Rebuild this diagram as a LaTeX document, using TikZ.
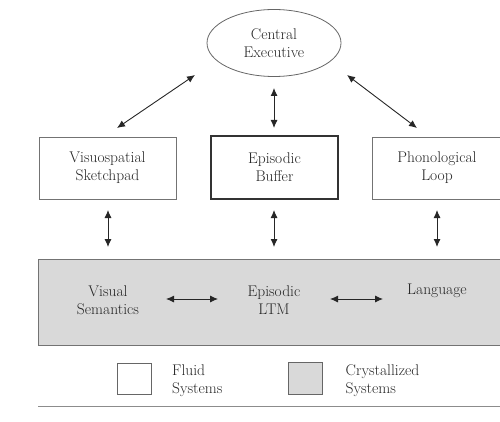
\documentclass[tikz,border=0pt]{standalone}
\usetikzlibrary{arrows.meta,shapes.geometric,calc}
\begin{document}
\begin{tikzpicture}[x=1pt,y=-1pt,
  font=\fontsize{15.5}{18}\selectfont,
  txt/.style={text=black!85, align=center, inner sep=0pt},
  box/.style={draw=black!55, line width=0.8pt, fill=white, txt},
  arr/.style={{Latex[length=8pt,width=7pt]}-{Latex[length=8pt,width=7pt]}, line width=0.9pt, draw=black!85}]
\useasboundingbox (0,0) rectangle (500,422);
% central executive
\node[ellipse, draw=black!60, line width=0.8pt, minimum width=134pt, minimum height=67pt, txt] (ce) at (274,43) {Central\\Executive};
% slave systems
\node[box, minimum width=137pt, minimum height=62pt] (vss) at (107.5,168) {Visuospatial\\Sketchpad};
\node[box, draw=black!80, line width=1.1pt, minimum width=127pt, minimum height=63pt] (eb) at (274.5,167.5) {Episodic\\Buffer};
\node[box, minimum width=130pt, minimum height=62pt] (pl) at (437,168) {Phonological\\Loop};
% crystallized systems box
\node[draw=black!55, line width=0.8pt, fill=black!15, minimum width=472pt, minimum height=86pt] (ltmbox) at (274,302) {};
\node[txt] (vsem) at (108,300) {Visual\\Semantics};
\node[txt] (eltm) at (274,300) {Episodic\\LTM};
\node[txt] (lang) at (437,291) {Language};
% arrows
\draw[arr] ($(ce.center)+(-79,32)$) -- ($(vss.center)+(9.5,-40)$);
\draw[arr] ($(ce.center)+(0,45)$) -- ($(eb.center)+(-0.5,-39.5)$);
\draw[arr] ($(ce.center)+(73,32)$) -- ($(pl.center)+(-20,-40)$);
\draw[arr] ($(vss.center)+(0.5,42)$) -- ($(ltmbox.center)+(-166,-55)$);
\draw[arr] ($(eb.center)+(-0.5,42.5)$) -- ($(ltmbox.center)+(0,-55)$);
\draw[arr] ($(pl.center)+(0,42)$) -- ($(ltmbox.center)+(163,-55)$);
\draw[arr] ($(vsem.center)+(58,-1)$) -- ($(eltm.center)+(-56,-1)$);
\draw[arr] ($(eltm.center)+(56,-1)$) -- ($(lang.center)+(-54,8)$);
% legend
\node[draw=black!60, line width=0.8pt, fill=white, minimum width=34pt, minimum height=31pt] (fluidkey) at (134,378.5) {};
\node[txt, anchor=west, align=left] (fluidtxt) at (172,381) {Fluid\\Systems};
\node[draw=black!60, line width=0.8pt, fill=black!15, minimum width=34pt, minimum height=32pt] (crystkey) at (305,378) {};
\node[txt, anchor=west, align=left] (crysttxt) at (345.5,381) {Crystallized\\Systems};
\draw[black!45, line width=0.8pt] (38,406) -- (500,406);
\end{tikzpicture}
\end{document}
